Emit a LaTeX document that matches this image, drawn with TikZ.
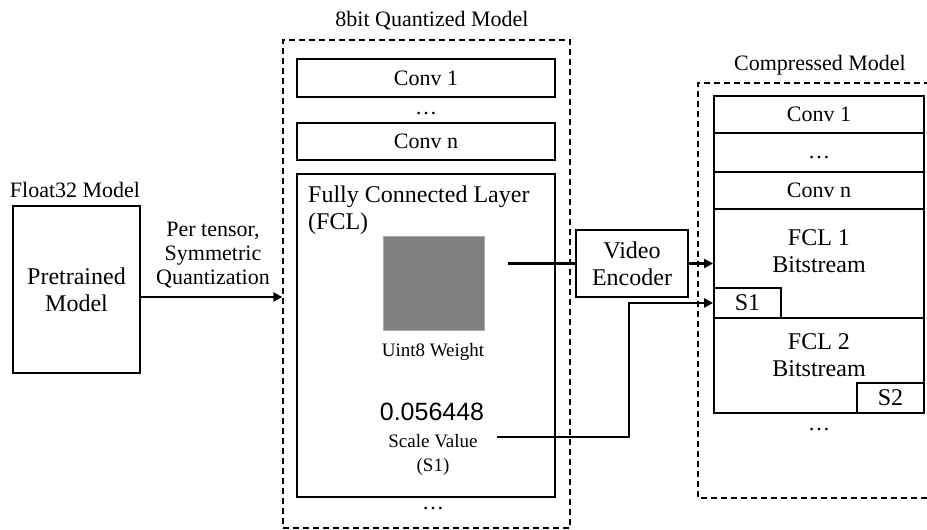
\documentclass[tikz,border=0pt]{standalone}
\usepackage{fontspec}
\setmainfont{Liberation Serif}
\newfontfamily\numfont{Liberation Sans}
\usetikzlibrary{arrows.meta,calc}

\begin{document}
\begin{tikzpicture}[x=1pt,y=-1pt,
  box/.style={draw, line width=1.8pt, inner sep=0pt, minimum width=#1},
  box/.default=258pt,
  group/.style={draw, line width=1.3pt, dash pattern=on 6pt off 4pt},
  txt/.style={font=\fontsize{22}{24}\selectfont, align=center, inner sep=0pt},
  bigtxt/.style={font=\fontsize{24}{27}\selectfont, align=center, inner sep=0pt},
  smalltxt/.style={font=\fontsize{19}{24}\selectfont, align=center, inner sep=0pt},
  conn/.style={line width=2.2pt},
  arr/.style={conn, -{Triangle[length=9pt,width=9pt]}}
]
\useasboundingbox (0,0) rectangle (927,530);
\clip (0,0) rectangle (927,530);

% ---- Float32 input model
\node[txt] at (75,190) {Float32 Model};
\node[box=127pt, minimum height=167pt, bigtxt] (pre) at (76.5,289.5) {Pretrained\\Model};

% ---- 8bit quantized model
\node[group, minimum width=287pt, minimum height=488pt, inner sep=0pt] (q8) at (426.5,284) {};
\node[txt] at (432,21) {8bit Quantized Model};
\node[box, minimum height=38pt, txt] (qc1) at (426,78) {Conv 1};
\node[txt, anchor=base] at (426,114) {\dots};
\node[box, minimum height=37pt, txt] (qcn) at (426,141.5) {Conv n};
\node[box, minimum height=323pt] (fcl) at (426,335.5) {};
\node[bigtxt, align=left, anchor=north west] at (308,186) {Fully Connected Layer\\(FCL)};
\node[fill={rgb,255:red,128;green,128;blue,128}, draw={rgb,255:red,170;green,170;blue,170}, line width=0.6pt,
      minimum width=101pt, minimum height=94pt, inner sep=0pt] (wt) at (433.5,283) {};
\node[smalltxt] at (433,352) {Uint8 Weight};
\node[inner sep=0pt, font=\numfont\fontsize{25}{28}\selectfont] (num) at (432,412) {0.056448};
\node[smalltxt] (sv) at (433,455) {Scale Value\\(S1)};
\node[txt, anchor=base] at (433,509) {\dots};

% ---- quantization arrow
\node[txt] at (213,255) {Per tensor,\\Symmetric\\Quantization};
\draw[arr] (pre.east |- 0,297) -- (q8.west |- 0,297);

% ---- video encoder
\node[box=112pt, minimum height=67pt, bigtxt] (enc) at (632,263.5) {Video\\Encoder};

% ---- compressed model
\draw[group] (950,83) -- (698,83) -- (698,498) -- (950,498);
\node[txt] at (820,65) {Compressed Model};
\node[box=210pt, minimum height=37pt, txt] (cc1) at (819,114.5) {Conv 1};
\node[box=210pt, minimum height=39pt] (cdots) at (819,152.5) {};
\node[txt, anchor=base] at (819,158) {\dots};
\node[box=210pt, minimum height=37pt, txt] (ccn) at (819,190.5) {Conv n};
\node[box=210pt, minimum height=109pt] (fcl1) at (819,263.5) {};
\node[bigtxt] at (819,251) {FCL 1\\Bitstream};
\node[box=210pt, minimum height=95pt] (fcl2) at (819,365.5) {};
\node[bigtxt] at (819,355) {FCL 2\\Bitstream};
\node[box=67pt, minimum height=30pt, bigtxt] (s1) at (747.5,303) {S1};
\node[box=67pt, minimum height=30pt, bigtxt] (s2) at (890.5,398) {S2};
\node[txt, anchor=base] at (819,430) {\dots};

% ---- connectors
\coordinate (wout) at (508,263.5);
\coordinate (sout) at (497,437);
\coordinate (bend) at (629,303);
\draw[conn] (wout) -- (enc.west);
\draw[arr] (enc.east) -- (fcl1.west);
\draw[arr] (sout) -| (bend) -- (s1.west);
\end{tikzpicture}
\end{document}
